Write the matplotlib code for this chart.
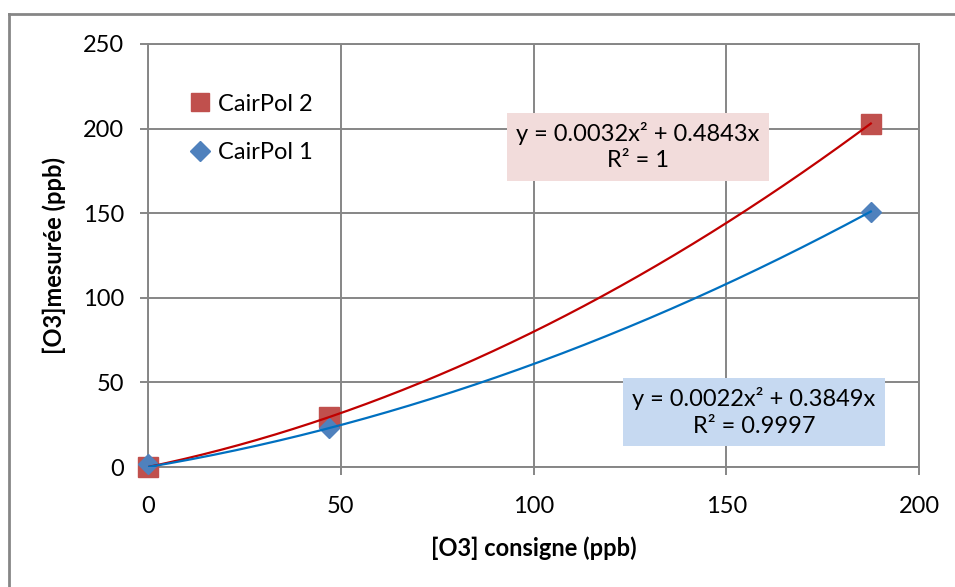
import numpy as np
import matplotlib
matplotlib.use("Agg")
import matplotlib.pyplot as plt
from matplotlib.lines import Line2D

plt.rcParams['font.family'] = ['Lato', 'DejaVu Sans']

# ---- data ----
consigne = [0, 47, 187.5]
cairpol2 = [0, 29.5, 203]
cairpol1 = [2, 23, 151]
series_names = ["CairPol 2", "CairPol 1"]
eq2_text = "y = 0.0032x² + 0.4843x\nR² = 1"
eq1_text = "y = 0.0022x² + 0.3849x\nR² = 0.9997"
xticks = [0, 50, 100, 150, 200]
yticks = [0, 50, 100, 150, 200, 250]
xlabel = "[O3] consigne (ppb)"
ylabel = "[O3]mesurée (ppb)"

GRAY = "#868686"
RED_M = "#C0504D"
BLUE_M = "#4F81BD"
RED_L = "#C00000"
BLUE_L = "#0070C0"


def fit_origin_quad(x, y):
    x = np.asarray(x, float)
    y = np.asarray(y, float)
    A = np.column_stack([x ** 2, x])
    coef, *_ = np.linalg.lstsq(A, y, rcond=None)
    return coef


fig = plt.figure(figsize=(9.55, 5.87), dpi=100)
ax = fig.add_axes([148 / 955, 1 - 467 / 587, (919 - 148) / 955, (467 - 44) / 587])

ax.set_xlim(0, 200)
ax.set_ylim(0, 250)
ax.set_xticks(xticks)
ax.set_yticks(yticks)
ax.grid(True, color=GRAY, linewidth=1.4)
ax.set_axisbelow(True)
for s in ax.spines.values():
    s.set_color(GRAY)
    s.set_linewidth(1.4)
ax.tick_params(axis='both', colors=GRAY, length=6, width=1.4, labelsize=17,
               labelcolor='black')
ax.tick_params(axis='y', pad=11)
ax.tick_params(axis='x', pad=15)

# markers
h2, = ax.plot(consigne, cairpol2, linestyle='none', marker='s', markersize=14,
              color=RED_M, zorder=3, label=series_names[0], clip_on=False)
h1, = ax.plot(consigne, cairpol1, linestyle='none', marker='D', markersize=10,
              color=BLUE_M, zorder=4, label=series_names[1], clip_on=False)

# trendlines (quadratic through origin fitted to the data)
xs = np.linspace(0, max(consigne), 200)
c2 = fit_origin_quad(consigne, cairpol2)
c1 = fit_origin_quad(consigne, cairpol1)
ax.plot(xs, c2[0] * xs ** 2 + c2[1] * xs, color=RED_L, linewidth=1.6, zorder=5)
ax.plot(xs, c1[0] * xs ** 2 + c1[1] * xs, color=BLUE_L, linewidth=1.6, zorder=5)

ax.set_xlabel(xlabel, fontsize=17, fontweight='bold', labelpad=14)
ax.set_ylabel(ylabel, fontsize=17, fontweight='bold', labelpad=12)

leg = ax.legend(handles=[h2, h1], loc='upper left', bbox_to_anchor=(0.043, 0.905),
                frameon=False, fontsize=17, handlelength=0.8, handletextpad=0.35,
                labelspacing=1.15, borderaxespad=0)
for lh in leg.legend_handles:
    lh.set_markersize(13 if lh.get_marker() == 's' else 10)

ax.text(127.1, 189.4, eq2_text, ha='center', va='center', fontsize=17,
        linespacing=1.3, zorder=6,
        bbox=dict(boxstyle='square,pad=0.4', facecolor='#F2DCDB', edgecolor='none'))
ax.text(157.2, 32.5, eq1_text, ha='center', va='center', fontsize=17,
        linespacing=1.3, zorder=6,
        bbox=dict(boxstyle='square,pad=0.4', facecolor='#C6D9F1', edgecolor='none'))

# outer chart frame (partially visible)
fig.add_artist(Line2D([9 / 955, 9 / 955], [0, 1 - 14 / 587], color=GRAY, linewidth=2,
                      transform=fig.transFigure))
fig.add_artist(Line2D([9 / 955, 1], [1 - 14 / 587, 1 - 14 / 587], color=GRAY, linewidth=2,
                      transform=fig.transFigure))

fig.savefig("out.png", dpi=100)
